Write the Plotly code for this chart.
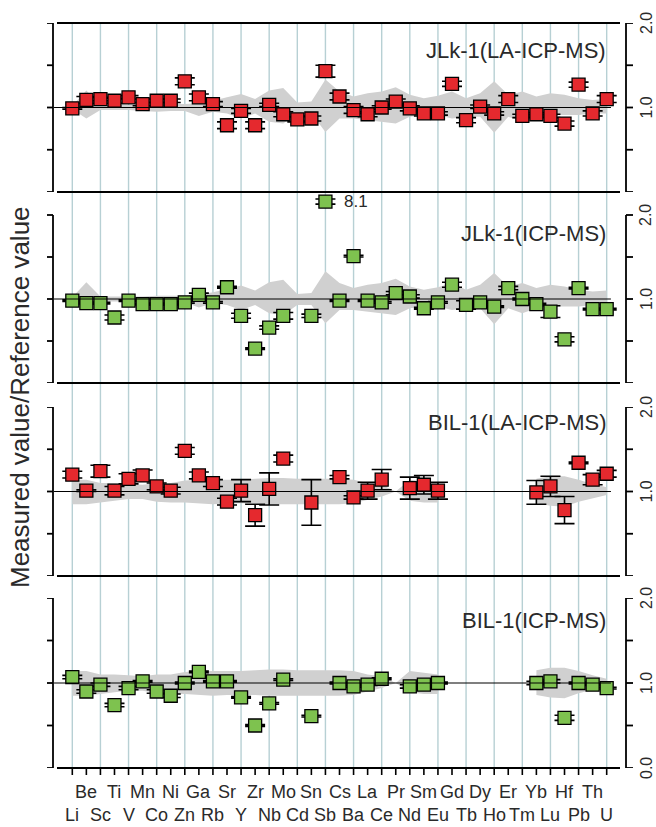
import plotly.graph_objects as go

elements = ["Li", "Be", "Sc", "Ti", "V", "Mn", "Co", "Ni", "Zn", "Ga", "Rb", "Sr", "Y", "Zr",
            "Nb", "Mo", "Cd", "Sn", "Sb", "Cs", "Ba", "La", "Ce", "Pr", "Nd", "Sm", "Eu", "Gd",
            "Tb", "Dy", "Ho", "Er", "Tm", "Yb", "Lu", "Hf", "Pb", "Th", "U"]

# JLk-1 LA-ICP-MS
jlk_la = [0.99, 1.09, 1.10, 1.08, 1.12, 1.04, 1.08, 1.08, 1.31, 1.12, 1.04, 0.79, 0.96, 0.79,
          1.03, 0.92, 0.86, 0.87, 1.43, 1.13, 0.97, 0.92, 1.00, 1.07, 0.99, 0.93, 0.93, 1.28,
          0.85, 1.01, 0.93, 1.10, 0.90, 0.92, 0.90, 0.81, 1.27, 0.93, 1.10]
jlk_la_err = [0.01, 0.04, 0.02, 0.03, 0.02, 0.02, 0.02, 0.02, 0.04, 0.04, 0.03, 0.04, 0.03, 0.04,
              0.02, 0.03, 0.03, 0.03, 0.07, 0.04, 0.04, 0.03, 0.02, 0.03, 0.03, 0.03, 0.02, 0.03,
              0.03, 0.02, 0.02, 0.04, 0.02, 0.02, 0.02, 0.03, 0.03, 0.03, 0.04]

# JLk-1 ICP-MS
jlk_icp = [0.98, 0.95, 0.95, 0.78, 0.98, 0.94, 0.94, 0.94, 0.96, 1.05, 0.96, 1.14, 0.80, 0.41,
           0.66, 0.80, None, 0.80, 8.1, 0.98, 1.51, 0.98, 0.96, 1.07, 1.03, 0.89, 0.96, 1.17,
           0.93, 0.96, 0.91, 1.13, 1.00, 0.94, 0.85, 0.52, 1.13, 0.88, 0.88]
jlk_icp_err = [0.01, 0.01, 0.01, 0.03, 0.01, 0.01, 0.01, 0.01, 0.01, 0.02, 0.01, 0.01, 0.03, 0.01,
               0.02, 0.04, None, 0.02, 0.03, 0.01, 0.01, 0.01, 0.01, 0.02, 0.02, 0.01, 0.01, 0.03,
               0.05, 0.01, 0.01, 0.02, 0.01, 0.01, 0.07, 0.03, 0.01, 0.01, 0.01]

# BIL-1 LA-ICP-MS
bil_la = [1.20, 1.01, 1.24, 1.01, 1.15, 1.19, 1.06, 1.01, 1.48, 1.19, 1.10, 0.88, 1.01, 0.72,
          1.03, 1.39, None, 0.87, None, 1.17, 0.93, 1.01, 1.14, None, 1.04, 1.08, 1.01, None,
          None, None, None, None, None, 0.99, 1.06, 0.78, 1.34, 1.14, 1.21]
bil_la_err = [0.04, 0.01, 0.07, 0.05, 0.06, 0.065, 0.04, 0.04, 0.04, 0.04, 0.04, 0.04, 0.13, 0.13,
              0.19, 0.04, None, 0.27, None, 0.02, 0.02, 0.10, 0.12, None, 0.13, 0.11, 0.10, None,
              None, None, None, None, None, 0.14, 0.12, 0.16, 0.01, 0.06, 0.04]

# BIL-1 ICP-MS
bil_icp = [1.07, 0.90, 0.98, 0.74, 0.94, 1.02, 0.90, 0.85, 1.00, 1.13, 1.02, 1.02, 0.83, 0.50,
           0.76, 1.04, None, 0.61, None, 1.00, 0.96, 0.98, 1.05, None, 0.96, 0.98, 1.00, None,
           None, None, None, None, None, 1.00, 1.02, 0.59, 1.00, 0.98, 0.94]
bil_icp_err = [0.02, 0.02, 0.02, 0.02, 0.02, 0.01, 0.02, 0.02, 0.01, 0.01, 0.01, 0.01, 0.01, 0.01,
               0.01, 0.01, None, 0.01, None, 0.01, 0.01, 0.01, 0.01, None, 0.02, 0.02, 0.01, None,
               None, None, None, None, None, 0.02, 0.02, 0.03, 0.01, 0.01, 0.01]

# reference-value uncertainty bands (relative, upper / lower)
jlk_band_up = [0.02, 0.20, 0.03, 0.03, 0.03, 0.03, 0.04, 0.04, 0.04, 0.05, 0.08, 0.12, 0.16, 0.10,
               0.20, 0.23, 0.06, 0.07, 0.33, 0.19, 0.13, 0.17, 0.19, 0.24, 0.15, 0.11, 0.14, 0.19,
               0.11, 0.17, 0.31, 0.15, 0.19, 0.13, 0.17, 0.15, 0.11, 0.09, 0.10]
jlk_band_dn = [0.02, 0.13, 0.03, 0.03, 0.03, 0.04, 0.05, 0.04, 0.04, 0.10, 0.05, 0.07, 0.13, 0.07,
               0.17, 0.19, 0.07, 0.07, 0.29, 0.13, 0.13, 0.15, 0.17, 0.19, 0.11, 0.09, 0.09, 0.13,
               0.11, 0.11, 0.30, 0.11, 0.17, 0.11, 0.09, 0.09, 0.09, 0.07, 0.07]
bil_band_up = [0.14, 0.14, 0.10, 0.10, 0.09, 0.08, 0.10, 0.10, 0.13, 0.14, 0.14, 0.14, 0.14, 0.15,
               0.16, 0.16, 0.15, 0.15, 0.15, 0.15, 0.14, 0.10, 0.08, 0.0, 0.14, 0.12, 0.10, None,
               None, None, None, None, None, 0.15, 0.18, 0.18, 0.14, 0.09, 0.05]
bil_band_dn = [0.15, 0.15, 0.13, 0.11, 0.09, 0.09, 0.12, 0.13, 0.13, 0.14, 0.15, 0.14, 0.14, 0.14,
               0.15, 0.15, 0.15, 0.15, 0.15, 0.15, 0.14, 0.10, 0.06, 0.0, 0.11, 0.13, 0.13, None,
               None, None, None, None, None, 0.14, 0.17, 0.18, 0.12, 0.08, 0.04]

panel_titles = ["JLk-1(LA-ICP-MS)", "JLk-1(ICP-MS)", "BIL-1(LA-ICP-MS)", "BIL-1(ICP-MS)"]
panel_data = [jlk_la, jlk_icp, bil_la, bil_icp]
panel_err = [jlk_la_err, jlk_icp_err, bil_la_err, bil_icp_err]
panel_band = [(jlk_band_up, jlk_band_dn), (jlk_band_up, jlk_band_dn),
              (bil_band_up, bil_band_dn), (bil_band_up, bil_band_dn)]
RED = "#e5292e"
GREEN = "#7ec24f"
panel_colors = [RED, GREEN, RED, GREEN]
CLIP_TOP = 2.16  # off-scale values drawn here with their value as label

# ---------------- geometry ----------------
W, H = 656, 827
ML, MR = 53, 30
PW = W - ML - MR
x_first_px, x_step_px = 72.3, 14.063
xr = [(ML - x_first_px) / x_step_px, (W - MR - x_first_px) / x_step_px]

def py(px):
    return 1 - px / H

def pxx(px):
    return (px - ML) / PW

# (top_px, bottom_px, ymax)
panels = [(23, 192, 2.0), (192, 383, 2.0 + 23 / 84.0), (407, 576, 2.0), (598, 768, 2.0)]
FONT = "Liberation Sans, Arial, Helvetica, sans-serif"
TXT = "#2a2a2a"

fig = go.Figure()
layout = dict(width=W, height=H, margin=dict(l=ML, r=MR, t=0, b=0), autosize=False,
              paper_bgcolor="white", plot_bgcolor="rgba(0,0,0,0)", showlegend=False,
              font=dict(family=FONT, color=TXT))
shapes = []
annotations = []

for k, (tp, bp, ymax) in enumerate(panels):
    n = k + 1
    xa = "x" if n == 1 else f"x{n}"
    ya = "y" if n == 1 else f"y{n}"
    layout["xaxis" if n == 1 else f"xaxis{n}"] = dict(domain=[0, 1], range=xr, visible=False,
                                                     anchor=ya, fixedrange=True)
    layout["yaxis" if n == 1 else f"yaxis{n}"] = dict(domain=[py(bp), py(tp)], range=[0, ymax],
                                                     visible=False, anchor=xa, fixedrange=True)
    # band
    up, dn = panel_band[k]
    bx, by = [], []
    seg = []
    for i in range(len(elements) + 1):
        if i < len(elements) and up[i] is not None:
            seg.append(i)
        else:
            if seg:
                bx += seg + seg[::-1] + [None]
                by += [1 + up[j] for j in seg] + [1 - dn[j] for j in seg[::-1]] + [None]
            seg = []
    fig.add_trace(go.Scatter(x=bx, y=by, xaxis=xa, yaxis=ya, mode="lines", fill="toself",
                             fillcolor="#d0d0d0", line=dict(width=0, color="#d0d0d0"),
                             hoverinfo="skip"))
    # reference line at 1
    shapes.append(dict(type="line", xref=xa, yref=ya, x0=-1.3, x1=38.3, y0=1, y1=1,
                       line=dict(color="black", width=1.2)))
    # data
    vals = panel_data[k]
    errs = panel_err[k]
    xs, ys, es = [], [], []
    for i, v in enumerate(vals):
        if v is None:
            continue
        xs.append(i)
        yv = v if v <= ymax else CLIP_TOP
        ys.append(yv)
        es.append(errs[i])
        if v > ymax:
            annotations.append(dict(text=f"{v:.1f}", xref=xa, yref=ya, x=i + 1.15, y=yv,
                                    xanchor="left", yanchor="middle", showarrow=False,
                                    font=dict(size=17, color=TXT, family=FONT)))
    fig.add_trace(go.Scatter(x=xs, y=ys, xaxis=xa, yaxis=ya, mode="markers",
                             marker=dict(symbol="square", size=13, color=panel_colors[k],
                                         line=dict(color="black", width=1.3)),
                             error_y=dict(type="data", array=es, visible=True, color="black",
                                          thickness=1.6, width=10),
                             cliponaxis=False))
    # left bracket axis
    shapes.append(dict(type="line", xref="paper", yref=ya, x0=0, x1=0, y0=0, y1=2,
                       line=dict(color="black", width=1.8)))
    # right bracket axis
    shapes.append(dict(type="line", xref="paper", yref=ya, x0=1, x1=1, y0=0, y1=2,
                       line=dict(color="black", width=1.8)))
    for t in [0, 0.5, 1, 1.5, 2]:
        shapes.append(dict(type="line", xref="paper", yref=ya, x0=-6 / PW, x1=0, y0=t, y1=t,
                           line=dict(color="black", width=1.8)))
        shapes.append(dict(type="line", xref="paper", yref=ya, x0=1, x1=1 + 7 / PW, y0=t, y1=t,
                           line=dict(color="black", width=1.8)))
    rlabels = [2.0, 1.0] + ([0.0] if n == 4 else [])
    for t in rlabels:
        annotations.append(dict(text=f"{t:.1f}", xref="paper", yref=ya, x=pxx(646), y=t,
                                xanchor="center", yanchor="middle", textangle=-90,
                                showarrow=False, font=dict(size=16, color=TXT, family=FONT)))
    # bottom horizontal frame line
    shapes.append(dict(type="line", xref="paper", yref="paper", x0=pxx(57), x1=pxx(620),
                       y0=py(bp), y1=py(bp), line=dict(color="black", width=1.8)))
    # panel title
    ty = [50, 233, 423, 620][k]
    annotations.append(dict(text=panel_titles[k], xref="paper", yref="paper", x=pxx(608),
                            y=py(ty), xanchor="right", yanchor="middle", showarrow=False,
                            font=dict(size=22, color=TXT, family=FONT)))

# top frame line of first panel
shapes.append(dict(type="line", xref="paper", yref="paper", x0=pxx(57), x1=pxx(620),
                   y0=py(23), y1=py(23), line=dict(color="black", width=1.8)))

# vertical guide lines at every other element
for i in range(0, len(elements), 2):
    shapes.append(dict(type="line", xref="x", yref="paper", x0=i, x1=i, y0=py(768), y1=py(23),
                       line=dict(color="#b7d0d4", width=1.4), layer="below"))

# bottom element ticks and labels
for i, el in enumerate(elements):
    shapes.append(dict(type="line", xref="x4", yref="paper", x0=i, x1=i, y0=py(768),
                       y1=py(775), line=dict(color="black", width=1.6)))
    annotations.append(dict(text=el, xref="x4", yref="paper", x=i,
                            y=py(792 if i % 2 == 1 else 815), xanchor="center",
                            yanchor="middle", showarrow=False,
                            font=dict(size=18, color=TXT, family=FONT)))

# y-axis title
annotations.append(dict(text="Measured value/Reference value", xref="paper", yref="paper",
                        x=pxx(20), y=py(397), xanchor="center", yanchor="middle",
                        textangle=-90, showarrow=False,
                        font=dict(size=26, color=TXT, family=FONT)))

layout["shapes"] = shapes
layout["annotations"] = annotations
fig.update_layout(**layout)
fig.write_html("out.html", config={"displayModeBar": False})

# remove the default page margin so the figure sits at the window's top-left corner
with open("out.html", "r", encoding="utf-8") as f:
    html = f.read()
html = html.replace("<head>", "<head><style>html,body{margin:0;padding:0;overflow:hidden;}</style>", 1)
with open("out.html", "w", encoding="utf-8") as f:
    f.write(html)
